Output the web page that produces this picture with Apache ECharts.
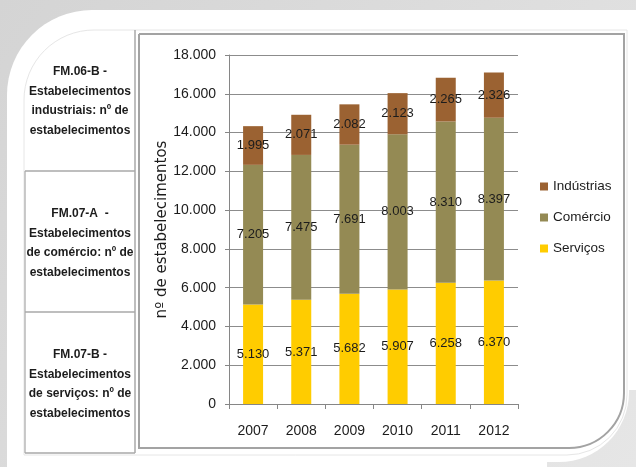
<!DOCTYPE html>
<html>
<head>
<meta charset="utf-8">
<script src="https://cdn.jsdelivr.net/npm/echarts@6/dist/echarts.min.js"></script>
<style>
  html, body { margin: 0; padding: 0; background: #ffffff; }
  #chart { width: 636px; height: 467px; }
</style>
</head>
<body>
<div id="chart"></div>
<script>
// Number of establishments by sector, 2007-2012
const years = ['2007', '2008', '2009', '2010', '2011', '2012'];
const servicos = [5130, 5371, 5682, 5907, 6258, 6370];
const comercio = [7205, 7475, 7691, 8003, 8310, 8397];
const industrias = [1995, 2071, 2082, 2123, 2265, 2326];
const seriesNames = ['Serviços', 'Comércio', 'Indústrias'];
const legendOrder = ['Indústrias', 'Comércio', 'Serviços'];
const axisTitle = 'nº de estabelecimentos';

// Indicator descriptions shown in the side table, one entry per row
const tableRows = [
  'FM.06-B -\nEstabelecimentos\nindustriais: nº de\nestabelecimentos',
  'FM.07-A  -\nEstabelecimentos\nde comércio: nº de\nestabelecimentos',
  'FM.07-B -\nEstabelecimentos\nde serviços: nº de\nestabelecimentos'
];

// Pick a condensed face when the system has one
function fontAvailable(name) {
  const ctx = document.createElement('canvas').getContext('2d');
  const sample = 'Estabelecimentos 0123456789';
  ctx.font = '40px monospace';
  const base = ctx.measureText(sample).width;
  ctx.font = '40px "' + name + '", monospace';
  return ctx.measureText(sample).width !== base;
}
const narrow = fontAvailable('Liberation Sans Narrow');
const NF = narrow ? '"Liberation Sans Narrow", "Liberation Sans", Arial, sans-serif'
                  : '"Liberation Sans", Arial, sans-serif';
const sz = narrow
  ? { tick: 16, label: 14, legend: 15, table: 14 }
  : { tick: 14, label: 13, legend: 13.5, table: 12 };

function fmt(v) {
  if (v < 1000) return String(v);
  const r = v % 1000;
  return Math.floor(v / 1000) + '.' + String(r).padStart(3, '0');
}

const colors = { 'Serviços': '#FFCC00', 'Comércio': '#948A54', 'Indústrias': '#9B6232' };
const values = { 'Serviços': servicos, 'Comércio': comercio, 'Indústrias': industrias };

const chart = echarts.init(document.getElementById('chart'), null, { renderer: 'canvas' });

const tableCenters = [101, 243, 384];
const graphics = [
  // page backdrop and rounded card
  { type: 'rect', z: -20, silent: true, shape: { x: 0, y: 0, width: 636, height: 467 },
    style: { fill: new echarts.graphic.LinearGradient(0, 0, 1, 1, [
      { offset: 0, color: '#d4d4d4' }, { offset: 1, color: '#e6e6e6' }]) } },
  { type: 'rect', z: -19, silent: true, shape: { x: 7, y: 10, width: 622, height: 452, r: [85, 0, 70, 0] },
    style: { fill: '#ffffff' } },
  { type: 'rect', z: -19, silent: true, shape: { x: 560, y: 10, width: 76, height: 380 },
    style: { fill: '#ffffff' } },
  { type: 'rect', z: -19, silent: true, shape: { x: 7, y: 440, width: 540, height: 27 },
    style: { fill: '#ffffff' } },
  // faint outer frame
  { type: 'rect', z: -18, silent: true, shape: { x: 24, y: 30, width: 603, height: 425, r: [70, 0, 60, 0] },
    style: { fill: 'none', stroke: '#e6e6e6', lineWidth: 1 } },
  // chart box
  { type: 'rect', z: -17, silent: true, shape: { x: 139, y: 34, width: 485, height: 414, r: [0, 0, 55, 0] },
    style: { fill: 'none', stroke: '#a3a3a3', lineWidth: 2 } },
  // side table lines
  { type: 'line', z: -17, silent: true, shape: { x1: 135, y1: 30, x2: 135, y2: 453 },
    style: { stroke: '#a8a8a8', lineWidth: 1.5 } },
  { type: 'line', z: -17, silent: true, shape: { x1: 25, y1: 171, x2: 25, y2: 453 },
    style: { stroke: '#b8b8b8', lineWidth: 1.5 } },
  { type: 'line', z: -17, silent: true, shape: { x1: 25, y1: 171, x2: 135, y2: 171 },
    style: { stroke: '#a8a8a8', lineWidth: 1.5 } },
  { type: 'line', z: -17, silent: true, shape: { x1: 25, y1: 312, x2: 135, y2: 312 },
    style: { stroke: '#a8a8a8', lineWidth: 1.5 } },
  { type: 'line', z: -17, silent: true, shape: { x1: 25, y1: 453, x2: 135, y2: 453 },
    style: { stroke: '#a8a8a8', lineWidth: 1.5 } }
];
tableRows.forEach((t, i) => {
  graphics.push({
    type: 'text', z: 5, silent: true, x: 80, y: tableCenters[i],
    style: { text: t, fill: '#1c1c1c', font: 'bold ' + sz.table + 'px ' + NF,
             align: 'center', verticalAlign: 'middle', lineHeight: 19.5 }
  });
});

const option = {
  animation: false,
  backgroundColor: '#ffffff',
  graphic: graphics,
  grid: { left: 229, right: 118, top: 55, bottom: 63 },
  legend: {
    data: legendOrder, orient: 'vertical', left: 535, top: 174,
    itemWidth: 8, itemHeight: 8, itemGap: 16, icon: 'rect',
    textStyle: { fontFamily: NF, fontSize: sz.legend, color: '#1c1c1c', lineHeight: 15 }
  },
  xAxis: {
    type: 'category', data: years,
    axisLine: { lineStyle: { color: '#868686', width: 1 } },
    axisTick: { show: true, length: 5, lineStyle: { color: '#868686' } },
    axisLabel: { margin: 20, fontFamily: NF, fontSize: sz.tick, color: '#1c1c1c' }
  },
  yAxis: {
    type: 'value', min: 0, max: 18000, interval: 2000,
    name: axisTitle, nameLocation: 'middle', nameRotate: 90, nameGap: 58,
    nameTextStyle: { fontFamily: '"DejaVu Sans", sans-serif', fontSize: 15, color: '#1c1c1c' },
    axisLine: { show: true, lineStyle: { color: '#868686', width: 1 } },
    axisTick: { show: true, length: 4, lineStyle: { color: '#868686' } },
    splitLine: { lineStyle: { color: '#8c8c8c', width: 1 } },
    axisLabel: { margin: 13, fontFamily: NF, fontSize: sz.tick, color: '#1c1c1c', formatter: v => fmt(v) }
  },
  series: seriesNames.map(name => ({
    name, type: 'bar', stack: 'total', barWidth: 20,
    data: values[name],
    itemStyle: { color: colors[name] },
    label: { show: true, position: 'inside', color: '#1c1c1c', fontFamily: NF,
             fontSize: sz.label, formatter: p => fmt(p.value) }
  }))
};
chart.setOption(option);
</script>
</body>
</html>
